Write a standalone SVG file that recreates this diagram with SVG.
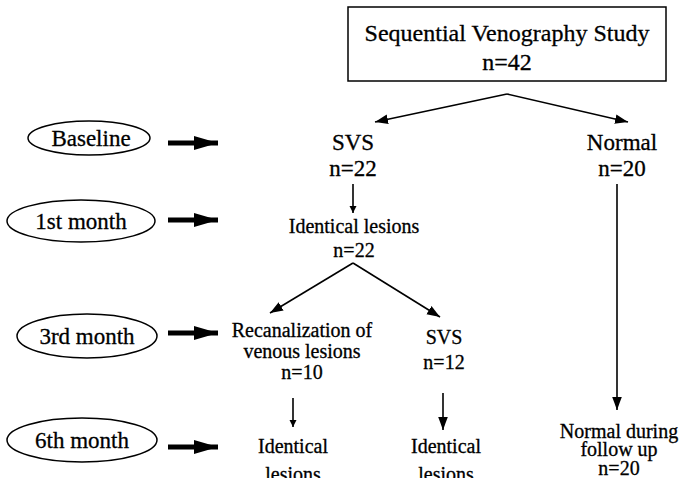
<svg xmlns="http://www.w3.org/2000/svg" width="692" height="478" viewBox="0 0 692 478" font-family="Liberation Serif, DejaVu Serif, serif">
<style>
text{fill:#000;stroke:#000;stroke-width:0.3;text-anchor:middle}
.t{font-size:24px}
.m{font-size:23px}
.s{font-size:20px}
.e{fill:#fff;stroke:#000;stroke-width:1.5}
.c{stroke:#000;stroke-width:1.6;fill:none}
.b{stroke:#000;stroke-width:5;fill:none}
</style>
<defs>
<marker id="a" viewBox="0 0 10 10" refX="10" refY="5" markerWidth="7" markerHeight="8" markerUnits="userSpaceOnUse" orient="auto"><path d="M0,0L10,5L0,10z" fill="#000"/></marker>
<marker id="a2" viewBox="0 0 10 10" refX="10" refY="5" markerWidth="13" markerHeight="12" markerUnits="userSpaceOnUse" orient="auto" preserveAspectRatio="none"><path d="M0,1L10,5L0,9z" fill="#000"/></marker>
<marker id="bh" viewBox="0 0 10 10" refX="10" refY="5" markerWidth="24" markerHeight="14" markerUnits="userSpaceOnUse" orient="auto" preserveAspectRatio="none"><path d="M0,0L10,5L0,10z" fill="#000"/></marker>
</defs>
<g id="study"><rect x="348" y="7" width="318" height="74" fill="#fff" stroke="#000" stroke-width="1.5"/><text class="t" x="507" y="41">Sequential Venography Study</text><text class="t" x="507" y="70">n=42</text></g>
<g id="baseline"><ellipse class="e" cx="89" cy="138" rx="61" ry="17"/><text class="m" x="91" y="146">Baseline</text></g>
<g id="month1"><ellipse class="e" cx="81" cy="221" rx="74" ry="21"/><text class="m" x="81" y="229">1st month</text></g>
<g id="month3"><ellipse class="e" cx="87" cy="336" rx="70" ry="22"/><text class="m" x="87" y="344">3rd month</text></g>
<g id="month6"><ellipse class="e" cx="82" cy="440" rx="75" ry="22"/><text class="m" x="82" y="448">6th month</text></g>
<g id="svs"><text class="m" x="353" y="150">SVS</text><text class="m" x="353" y="176">n=22</text></g>
<g id="normal"><text class="m" x="622" y="150">Normal</text><text class="m" x="622" y="176">n=20</text></g>
<g id="identical1"><text class="s" x="354" y="233">Identical lesions</text><text class="s" x="354" y="257">n=22</text></g>
<g id="recan"><text class="s" x="302" y="337">Recanalization of</text><text class="s" x="302" y="358">venous lesions</text><text class="s" x="302" y="379">n=10</text></g>
<g id="svs12"><text class="s" x="444" y="344">SVS</text><text class="s" x="444" y="369">n=12</text></g>
<g id="identical2"><text class="s" x="293" y="453">Identical</text><text class="s" x="293" y="481">lesions</text></g>
<g id="identical3"><text class="s" x="446" y="453">Identical</text><text class="s" x="446" y="481">lesions</text></g>
<g id="normal2"><text class="s" x="619" y="438">Normal during</text><text class="s" x="619" y="456">follow up</text><text class="s" x="619" y="475">n=20</text></g>
<g id="connectors">
<path class="c" d="M507,94L375,122" marker-end="url(#a2)"/>
<path class="c" d="M507,94L628,122" marker-end="url(#a2)"/>
<path class="c" d="M353,184L353,213" marker-end="url(#a)"/>
<path class="c" d="M617,184L617,410" marker-end="url(#a2)"/>
<path class="c" d="M353,263L270,313" marker-end="url(#a2)"/>
<path class="c" d="M353,263L440,317" marker-end="url(#a2)"/>
<path class="c" d="M293,398L293,427" marker-end="url(#a)"/>
<path class="c" d="M443,393L443,430" marker-end="url(#a2)"/>
<path class="b" d="M168,143L218,143" marker-end="url(#bh)"/>
<path class="b" d="M168,220L218,220" marker-end="url(#bh)"/>
<path class="b" d="M168,333L218,333" marker-end="url(#bh)"/>
<path class="b" d="M168,447L218,447" marker-end="url(#bh)"/>
</g>
</svg>
